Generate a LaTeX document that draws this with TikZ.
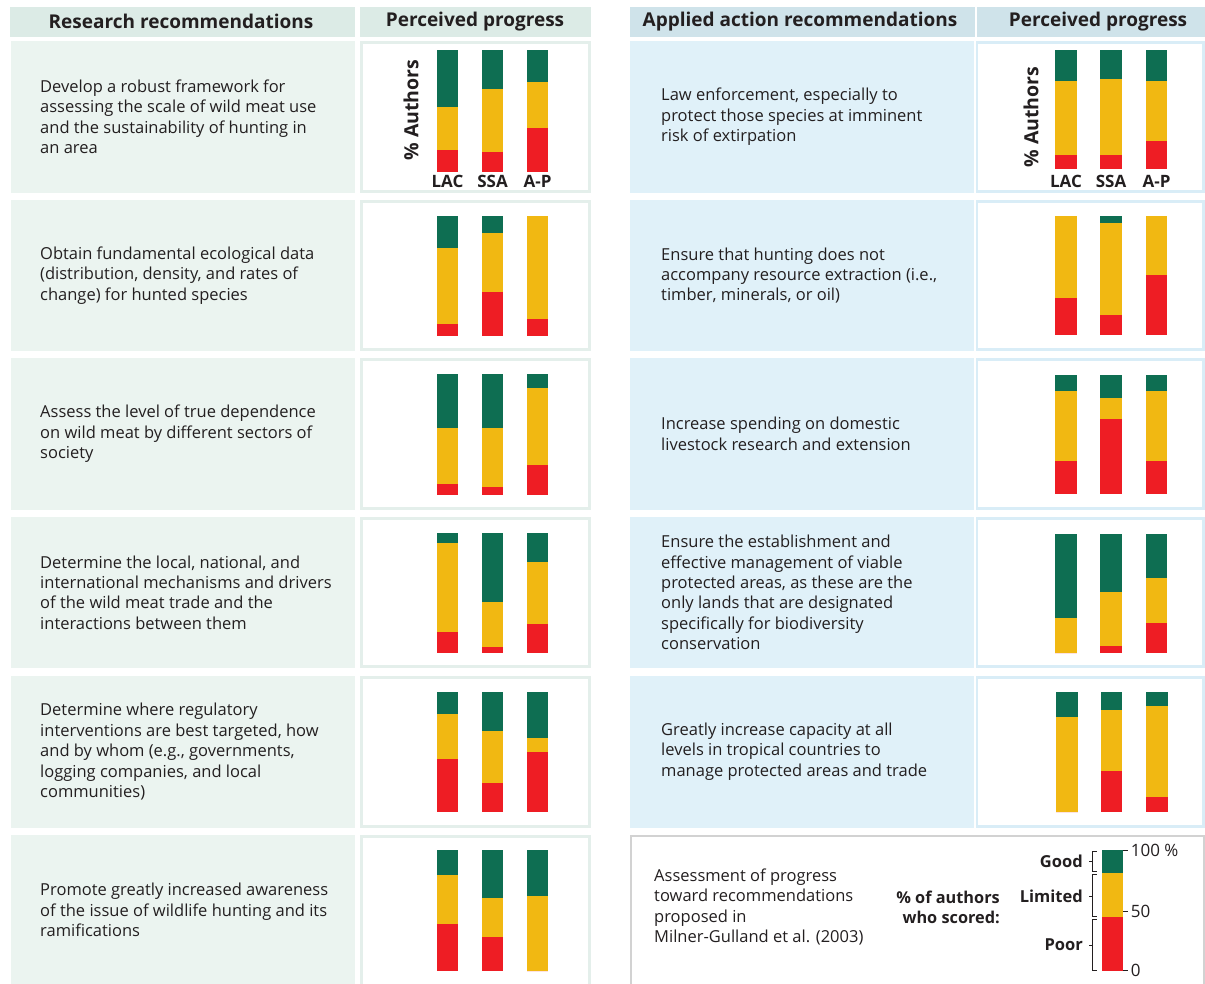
\documentclass[tikz,border=0pt]{standalone}
\usepackage{fontspec}
\setmainfont{Open Sans}
\definecolor{gr}{HTML}{0E6E52}
\definecolor{ye}{HTML}{F1B812}
\definecolor{re}{HTML}{EE1D24}
\definecolor{lhead}{HTML}{DCEBE6}
\definecolor{lbox}{HTML}{EBF4F0}
\definecolor{lbord}{HTML}{E4EFEB}
\definecolor{rhead}{HTML}{CFE3EA}
\definecolor{rbox}{HTML}{E0F1F9}
\definecolor{rbord}{HTML}{D9EDF7}
\definecolor{txt}{HTML}{231F20}
\definecolor{legbord}{HTML}{D2D2D2}
\newcommand\stackbar[5]{%
  \fill[gr] (#1,#2) rectangle ({#1+21.5},#4);
  \fill[ye] (#1,#4) rectangle ({#1+21.5},#5);
  \fill[re] (#1,#5) rectangle ({#1+21.5},#3);
}
\tikzset{
  bodytext/.style={anchor=west, align=left, inner sep=0pt, text=txt,
    font=\fontsize{16.5}{20.4}\selectfont},
  headtext/.style={inner sep=0pt, text=txt, font=\fontsize{19}{22}\selectfont\bfseries},
  axislab/.style={inner sep=0pt, text=txt, font=\fontsize{17}{20}\selectfont\bfseries},
  ticklab/.style={inner sep=0pt, text=txt, font=\fontsize{17}{20}\selectfont},
}
\begin{document}
\begin{tikzpicture}[x=1pt,y=-1pt]
\useasboundingbox (0,0) rectangle (1205,983);
\fill[white] (0,0) rectangle (1205,983);
% headers
\fill[lhead] (10,7.3) rectangle (355,37.3);
\fill[lhead] (360,7.3) rectangle (590.7,37.3);
\fill[rhead] (630,7.3) rectangle (975,37.3);
\fill[rhead] (977,7.3) rectangle (1205,37.3);
\node[headtext] (h1) at (181,21.5) {Research recommendations};
\node[headtext] (h2) at (475,21.5) {Perceived progress};
\node[headtext] (h3) at (800,21.5) {Applied action recommendations};
\node[headtext] (h4) at (1098,21.5) {Perceived progress};
% rows
\foreach \t/\b in {41/192.7, 200/350.7, 358/509.5, 517/668, 676/828, 835/990}{
  \fill[lbox] (10.5,\t) rectangle (355,\b);
  \draw[lbord, fill=white, line width=2.6pt] (361.3,{\t+1.3}) rectangle (589.4,{\b-1.3});
}
\foreach \t/\b in {41/192.7, 200/350.7, 358/509.5, 517/668, 676/828}{
  \fill[rbox] (630,\t) rectangle (974.3,\b);
  \draw[rbord, fill=white, line width=2.6pt] (977,{\t+1.3}) rectangle (1203.7,{\b-1.3});
}
% left texts
\node[bodytext] (l1) at (40,116.8) {Develop a robust framework for\\assessing the scale of wild meat use\\and the sustainability of hunting in\\an area};
\node[bodytext] (l2) at (40,275.5) {Obtain fundamental ecological data\\(distribution, density, and rates of\\change) for hunted species};
\node[bodytext] (l3) at (40,433.7) {Assess the level of true dependence\\on wild meat by different sectors of\\society};
\node[bodytext] (l4) at (40,592.5) {Determine the local, national, and\\international mechanisms and drivers\\of the wild meat trade and the\\interactions between them};
\node[bodytext] (l5) at (40,751.7) {Determine where regulatory\\interventions are best targeted, how\\and by whom (e.g., governments,\\logging companies, and local\\communities)};
\node[bodytext] (l6) at (40,910) {Promote greatly increased awareness\\of the issue of wildlife hunting and its\\ramifications};
% right texts
\node[bodytext] (r1) at (661,116.8) {Law enforcement, especially to\\protect those species at imminent\\risk of extirpation};
\node[bodytext] (r2) at (661,275.5) {Ensure that hunting does not\\accompany resource extraction (i.e.,\\timber, minerals, or oil)};
\node[bodytext] (r3) at (661,434) {Increase spending on domestic\\livestock research and extension};
\node[bodytext] (r4) at (661,592.5) {Ensure the establishment and\\effective management of viable\\protected areas, as these are the\\only lands that are designated\\specifically for biodiversity\\conservation};
\node[bodytext] (r5) at (661,751.7) {Greatly increase capacity at all\\levels in tropical countries to\\manage protected areas and trade};
% left bars
\stackbar{436.5}{50}{172}{107}{150}
\stackbar{481.5}{50}{172}{89}{151.5}
\stackbar{526.5}{50}{172}{82}{128}
\stackbar{436.5}{215.5}{336}{247.7}{324}
\stackbar{481.5}{215.5}{336}{232.7}{292}
\stackbar{526.5}{215.5}{336}{215.5}{318.7}
\stackbar{436.5}{374}{494.7}{427.7}{484}
\stackbar{481.5}{374}{494.7}{427.7}{487.3}
\stackbar{526.5}{374}{494.7}{388}{465}
\stackbar{436.5}{532.7}{653.3}{543}{631.7}
\stackbar{481.5}{532.7}{653.3}{602}{646.7}
\stackbar{526.5}{532.7}{653.3}{562.3}{624.3}
\stackbar{436.5}{691.7}{812}{714.3}{759}
\stackbar{481.5}{691.7}{812}{730.7}{782.7}
\stackbar{526.5}{691.7}{812}{738}{751.7}
\stackbar{436.5}{850}{970.7}{875}{923.7}
\stackbar{481.5}{850}{970.7}{897.7}{937}
\stackbar{526.5}{850}{970.7}{895.7}{970.7}
% right bars
\stackbar{1055}{50}{169}{81}{155}
\stackbar{1100}{50}{169}{79}{155}
\stackbar{1145.5}{50}{169}{81}{141}
\stackbar{1055}{216.3}{335}{216.3}{298.3}
\stackbar{1100}{216.3}{335}{223}{315}
\stackbar{1145.5}{216.3}{335}{216.3}{275}
\stackbar{1055}{374.7}{494.3}{390.7}{461}
\stackbar{1100}{374.7}{494.3}{398}{419.3}
\stackbar{1145.5}{374.7}{494.3}{390.7}{461}
\stackbar{1055}{533.7}{652.7}{618}{652.7}
\stackbar{1100}{533.7}{652.7}{591.7}{646.3}
\stackbar{1145.5}{533.7}{652.7}{578}{622.7}
\stackbar{1056}{692}{811.7}{717.3}{811.7}
\stackbar{1100.5}{692}{811.7}{710}{771}
\stackbar{1146}{692}{811.7}{705.7}{796.7}
% axis labels row 1
\node[axislab, rotate=90] (al) at (411,110) {\fontsize{19.5}{20}\selectfont \% Authors};
\node[axislab] (lac1) at (447.5,181) {LAC};
\node[axislab] (ssa1) at (492.5,181) {SSA};
\node[axislab] (ap1) at (537.5,181) {A-P};
\node[axislab, rotate=90] (ar) at (1031,117) {\fontsize{19.5}{20}\selectfont \% Authors};
\node[axislab] (lac2) at (1066,181) {LAC};
\node[axislab] (ssa2) at (1111,181) {SSA};
\node[axislab] (ap2) at (1156.5,181) {A-P};
% legend
\draw[legbord, line width=2.4pt] (631.2,990) -- (631.2,836) -- (1203.8,836) -- (1203.8,990);
\node[bodytext] (lg) at (654,907) {Assessment of progress\\toward recommendations\\proposed in\\Milner-Gulland et al. (2003)};
\node[axislab, anchor=east, align=right, font=\fontsize{16.3}{20.2}\selectfont\bfseries] (who) at (1000,907) {\% of authors\\who scored:};
\fill[gr] (1102,850) rectangle (1123,873);
\fill[ye] (1102,873) rectangle (1123,917);
\fill[re] (1102,917) rectangle (1123,970.7);
\coordinate (t100) at (1123,850);
\coordinate (t50) at (1123,911);
\coordinate (t0) at (1123,970.7);
\draw[txt, line width=0.8pt] (t100) -- ++(4.5,0) node[ticklab, anchor=west, xshift=3pt] (n100) {100 \%};
\draw[txt, line width=0.8pt] (t50) -- ++(4.5,0) node[ticklab, anchor=west, xshift=3pt] (n50) {50};
\draw[txt, line width=0.8pt] (t0) -- ++(4.5,0) node[ticklab, anchor=west, xshift=3pt] (n0) {0};
\draw[txt, line width=0.7pt] (1096.5,851) -- (1092.5,851) -- (1092.5,871) -- (1096.5,871) (1092.5,861) -- (1088.5,861);
\draw[txt, line width=0.7pt] (1096.5,874) -- (1092.5,874) -- (1092.5,916) -- (1096.5,916) (1092.5,896) -- (1088.5,896);
\draw[txt, line width=0.7pt] (1096.5,919) -- (1092.5,919) -- (1092.5,970) -- (1096.5,970) (1092.5,945) -- (1088.5,945);
\node[axislab, anchor=east, font=\fontsize{16.5}{20}\selectfont\bfseries] (good) at (1083,861) {Good};
\node[axislab, anchor=east, font=\fontsize{16.5}{20}\selectfont\bfseries] (lim) at (1083,896) {Limited};
\node[axislab, anchor=east, font=\fontsize{16.5}{20}\selectfont\bfseries] (poor) at (1083,945) {Poor};
\end{tikzpicture}
\end{document}
